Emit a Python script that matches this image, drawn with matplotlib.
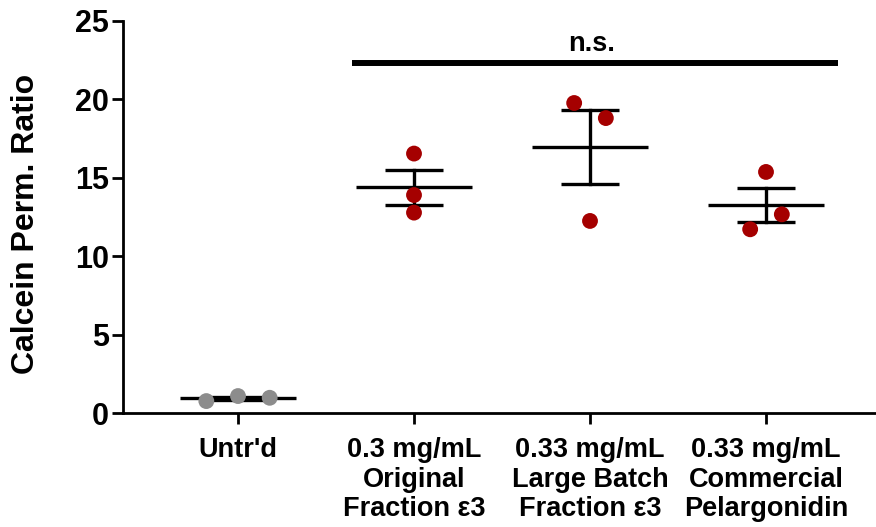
import numpy as np
import matplotlib
matplotlib.use("Agg")
import matplotlib.pyplot as plt

plt.rcParams['font.family'] = ['Liberation Sans', 'DejaVu Sans']
plt.rcParams['font.weight'] = 'bold'

# data
groups = ["Untr'd",
          "0.3 mg/mL\nOriginal\nFraction ε3",
          "0.33 mg/mL\nLarge Batch\nFraction ε3",
          "0.33 mg/mL\nCommercial\nPelargonidin"]
untreated = [0.78, 1.10, 0.99]
original_e3 = [16.54, 13.90, 12.78]
large_batch_e3 = [19.76, 18.80, 12.25]
commercial_pel = [15.37, 12.67, 11.72]
values = [untreated, original_e3, large_batch_e3, commercial_pel]
jitter = [[-0.18, 0.0, 0.18], [0.0, 0.0, 0.0], [-0.09, 0.09, 0.0], [0.0, 0.09, -0.09]]
dot_colors = ['#8c8c8c', '#a50000', '#a50000', '#a50000']

fig = plt.figure(figsize=(8.76, 5.27), dpi=100)
ax = fig.add_axes([0.1401, 0.2157, 0.8599, 0.745])

lw = 2.4
for i, vals in enumerate(values):
    vals = np.array(vals)
    m = vals.mean()
    sem = vals.std(ddof=1) / np.sqrt(len(vals))
    # mean line
    ax.plot([i - 0.33, i + 0.33], [m, m], color='black', lw=lw, solid_capstyle='butt', zorder=2)
    # SEM bar with caps
    ax.plot([i, i], [m - sem, m + sem], color='black', lw=lw, zorder=2)
    for y in (m - sem, m + sem):
        ax.plot([i - 0.165, i + 0.165], [y, y], color='black', lw=lw, solid_capstyle='butt', zorder=2)
    # individual points
    ax.scatter(i + np.array(jitter[i]), vals, s=130, color=dot_colors[i], edgecolors='none', zorder=3)

# significance bar
ax.plot([0.65, 3.41], [22.3, 22.3], color='black', lw=4.3, solid_capstyle='butt', clip_on=False)
ax.text(2.01, 23.05, 'n.s.', ha='center', va='baseline', fontsize=19.5, fontweight='bold')

ax.set_xlim(-0.655, 3.625)
ax.set_ylim(0, 25)
ax.set_yticks([0, 5, 10, 15, 20, 25])
ax.set_xticks(range(len(groups)))
ax.set_xticklabels(groups, linespacing=1.18, fontsize=19.5, fontweight='bold')
ax.tick_params(axis='y', width=2, length=8, pad=2, labelsize=22)
ax.tick_params(axis='x', width=2, length=8, pad=9)
for lab in ax.get_yticklabels():
    lab.set_fontweight('bold')

ax.set_ylabel('Calcein Perm. Ratio', fontsize=23, fontweight='bold')
ax.yaxis.label.set_va('center')
ax.yaxis.set_label_coords(-0.1284, 0.482)

for side in ('top', 'right'):
    ax.spines[side].set_visible(False)
for side in ('left', 'bottom'):
    ax.spines[side].set_linewidth(2)

fig.savefig('out.png', dpi=100)
